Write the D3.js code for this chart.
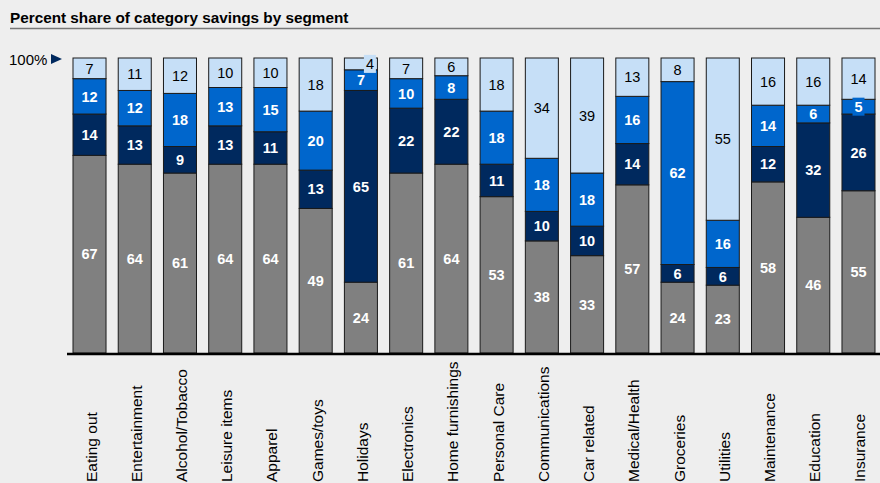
<html>
<head>
<meta charset="utf-8">
<title>Percent share of category savings by segment</title>
<script src="https://d3js.org/d3.v7.min.js"></script>
<style>
  body { margin: 0; background: #eeeeee; }
  text { font-family: Arial, "Liberation Sans", sans-serif; }
</style>
</head>
<body>
<script>
var width = 880, height = 483;

// data, bottom segment first
var categories = ["Eating out", "Entertainment", "Alcohol/Tobacco", "Leisure items", "Apparel",
  "Games/toys", "Holidays", "Electronics", "Home furnishings", "Personal Care", "Communications",
  "Car related", "Medical/Health", "Groceries", "Utilities", "Maintenance", "Education", "Insurance"];
var seg1 = [67, 64, 61, 64, 64, 49, 24, 61, 64, 53, 38, 33, 57, 24, 23, 58, 46, 55];
var seg2 = [14, 13, 9, 13, 11, 13, 65, 22, 22, 11, 10, 10, 14, 6, 6, 12, 32, 26];
var seg3 = [12, 12, 18, 13, 15, 20, 7, 10, 8, 18, 18, 18, 16, 62, 16, 14, 6, 5];
var seg4 = [7, 11, 12, 10, 10, 18, 4, 7, 6, 18, 34, 39, 13, 8, 55, 16, 16, 14];
var segments = ["seg1", "seg2", "seg3", "seg4"];
var colors = ["#808080", "#00295e", "#0066cc", "#c6dff7"];
var labelColors = ["#ffffff", "#ffffff", "#ffffff", "#000000"];

var rows = categories.map(function(c, i) {
  return { cat: c, seg1: seg1[i], seg2: seg2[i], seg3: seg3[i], seg4: seg4[i] };
});

var svg = d3.select("body").append("svg")
  .attr("width", width)
  .attr("height", height);

// title
svg.append("text").attr("x", 10).attr("y", 23)
  .style("font-size", "15.3px").style("font-weight", "bold")
  .text("Percent share of category savings by segment");
svg.append("line").attr("x1", 10).attr("x2", 880).attr("y1", 28.5).attr("y2", 28.5)
  .attr("stroke", "#777").attr("stroke-width", 1.5);

var x = d3.scaleBand().domain(categories).range([73, 875]).paddingInner(0.27).paddingOuter(0);
var y = d3.scaleLinear().domain([0, 100]).range([353, 58]);

var stack = d3.stack().keys(segments)(rows);

var layers = svg.selectAll("g.layer")
  .data(stack)
  .enter().append("g")
  .attr("class", "layer")
  .attr("fill", function(d, i) { return colors[i]; });

layers.selectAll("rect")
  .data(function(d) { return d; })
  .enter().append("rect")
  .attr("x", function(d) { return x(d.data.cat); })
  .attr("y", function(d) { return y(d[1]); })
  .attr("width", x.bandwidth())
  .attr("height", function(d) { return y(d[0]) - y(d[1]); })
  .attr("stroke", "#1a1a1a")
  .attr("stroke-width", 1);

// value labels
stack.forEach(function(layer, k) {
  layer.forEach(function(d) {
    var v = d[1] - d[0];
    var cx = x(d.data.cat) + x.bandwidth() / 2 + (v < 5 ? 9 : 0);
    var cy = (y(d[0]) + y(d[1])) / 2;
    if (v <= 5) {
      svg.append("rect").attr("x", cx - 6).attr("y", cy - 9).attr("width", 12).attr("height", 18)
        .attr("fill", colors[k]);
    }
    svg.append("text")
      .attr("x", cx).attr("y", cy)
      .attr("text-anchor", "middle")
      .attr("dy", "0.36em")
      .style("font-size", "14.5px")
      .style("font-weight", k == 3 ? "normal" : "bold")
      .attr("fill", labelColors[k])
      .text(v);
  });
});

// baseline
svg.append("line").attr("x1", 67).attr("x2", 880).attr("y1", 354).attr("y2", 354)
  .attr("stroke", "#000").attr("stroke-width", 2.5);

// 100% marker
svg.append("text").attr("x", 9).attr("y", 65).style("font-size", "15px").text("100%");
svg.append("path").attr("d", "M51,54 L62,59 L51,64 Z").attr("fill", "#00295e");

// category labels
svg.selectAll("text.cat")
  .data(categories)
  .enter().append("text")
  .attr("class", "cat")
  .attr("transform", function(d) { return "translate(" + (x(d) + x.bandwidth() / 2 + 7) + ",482) rotate(-90)"; })
  .style("font-size", "15.5px")
  .text(function(d) { return d; });
</script>
</body>
</html>
